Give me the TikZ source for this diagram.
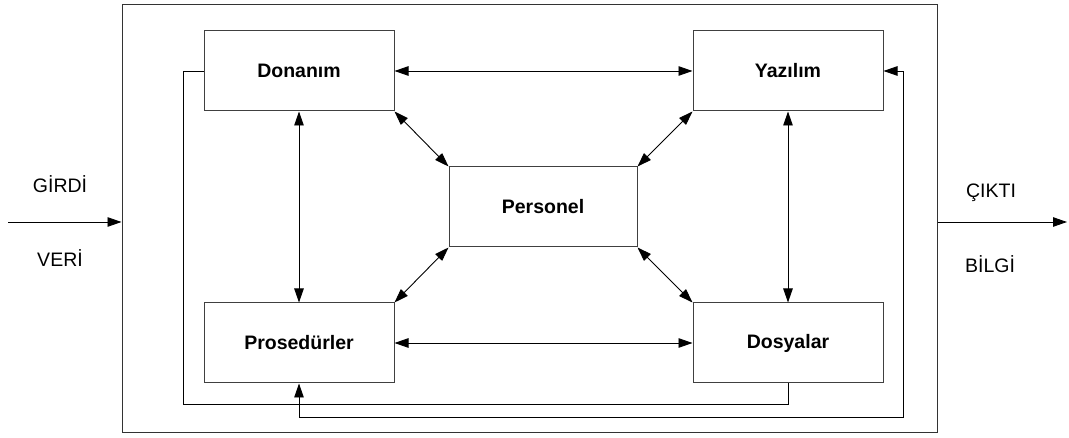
\documentclass[tikz,border=0pt]{standalone}
\usepackage{fontspec}
\setmainfont{Liberation Sans}
\usetikzlibrary{arrows.meta, positioning}

\begin{document}
\begin{tikzpicture}[x=1pt, y=-1pt,
    kutu/.style={draw=black!75, line width=1pt, fill=white, minimum width=190pt,
                 minimum height=80pt, font=\fontsize{19.5}{23}\selectfont\bfseries},
    yazi/.style={font=\fontsize{19.5}{23}\selectfont},
    ok/.style={line width=0.9pt, -{Triangle[length=14pt,width=9.5pt]}},
    ciftok/.style={line width=0.9pt, {Triangle[length=14pt,width=9.5pt]}-{Triangle[length=14pt,width=9.5pt]}},
    hat/.style={line width=0.9pt}]
    \useasboundingbox (0,0) rectangle (1069,438);

    % sistem cercevesi
    \node[draw=black!80, line width=1pt, minimum width=815pt, minimum height=427pt] (sistem) at (529.5,218.5) {};

    % bilesenler
    \node[kutu] (donanim) at (299,71) {Donanım};
    \node[kutu] (yazilim) at (788,71) {Yazılım};
    \node[kutu] (prosedur) at (299,343) {Prosedürler};
    \node[kutu] (dosya) at (788,343) {Dosyalar};
    \node[kutu, minimum width=188pt] (personel) at (543,207) {Personel};

    % iliskiler
    \draw[ciftok] (donanim) -- (yazilim);
    \draw[ciftok] (prosedur) -- (dosya);
    \draw[ciftok] (donanim) -- (prosedur);
    \draw[ciftok] (yazilim) -- (dosya);
    \draw[ciftok] (donanim.south east) -- (personel.north west);
    \draw[ciftok] (yazilim.south west) -- (personel.north east);
    \draw[ciftok] (prosedur.north east) -- (personel.south west);
    \draw[ciftok] (dosya.north west) -- (personel.south east);

    % geri besleme hatlari
    \coordinate (solkose) at (183,404);
    \coordinate (birles) at (299,404);
    \coordinate (altkose) at (299,417);
    \coordinate (sagkose) at (903,417);
    \draw[hat] (donanim.west) -| (solkose) -- (birles);
    \draw[hat] (dosya.south) |- (birles);
    \draw[ok] (birles) -- (prosedur.south);
    \draw[hat] (altkose) -- (birles);
    \draw[ok] (altkose) -- (sagkose) |- (yazilim.east);

    % girdi / cikti
    \coordinate (giris) at (8,222);
    \coordinate (cikis) at (1067,222);
    \draw[ok] (giris) -- (sistem.west |- giris);
    \draw[ok] (sistem.east |- cikis) -- (cikis);
    \node[yazi] (girdi) at (60,184) {GİRDİ};
    \node[yazi] (veri) at (60,258) {VERİ};
    \node[yazi] (cikti) at (991,193) {ÇIKTI};
    \node[yazi] (bilgi) at (990,264) {BİLGİ};
\end{tikzpicture}
\end{document}
